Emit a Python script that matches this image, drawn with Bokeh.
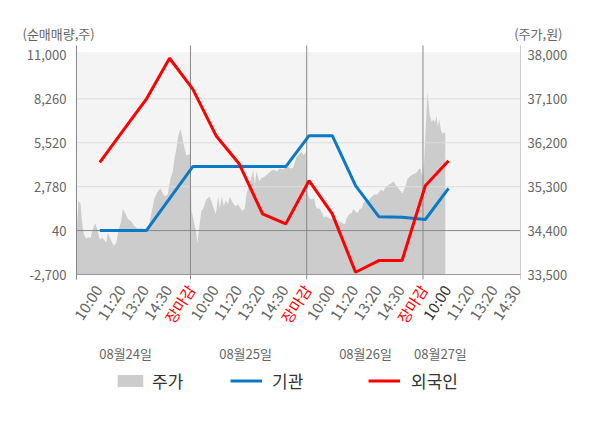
from bokeh.plotting import figure
from bokeh.models import Range1d, Legend, LegendItem, ColumnDataSource
from bokeh.core.properties import value
from bokeh.embed import file_html
from bokeh.resources import INLINE

FONT = "Noto Sans CJK KR"

# ---------------- data ----------------
slot_labels = ["10:00", "11:20", "13:20", "14:30", "장마감",
               "10:00", "11:20", "13:20", "14:30", "장마감",
               "10:00", "11:20", "13:20", "14:30", "장마감",
               "10:00", "11:20", "13:20", "14:30"]
slot_pos = list(range(19))
day_labels = ["08월24일", "08월25일", "08월26일", "08월27일"]
day_label_pos = [1.11, 6.27, 11.43, 14.65]
day_bounds = [3.9, 8.9, 13.9]

flow_pos = list(range(16))
inst = [40, 40, 40, 2030, 4030, 4030, 4030, 4030, 4030, 5960, 5960, 2840, 910, 870, 730, 2670]
foreign = [4300, 6270, 8240, 10790, 8860, 5960, 4190, 1080, 460, 3150, 1080, -2560, -1830, -1830, 2840, 4400]

left_ticks = [-2700, 40, 2780, 5520, 8260, 11000]
left_tick_labels = ["-2,700", "40", "2,780", "5,520", "8,260", "11,000"]
right_ticks = [33500, 34400, 35300, 36200, 37100, 38000]
right_tick_labels = ["33,500", "34,400", "35,300", "36,200", "37,100", "38,000"]

price_pos_d1 = [-1.00, -0.92, -0.83, -0.77, -0.69, -0.58, -0.52, -0.40, -0.30, -0.20, -0.11, -0.01,
                0.13, 0.28, 0.34, 0.46, 0.60, 0.71, 0.80, 0.92, 0.99, 1.09, 1.20, 1.35, 1.49, 1.63,
                1.78, 1.92, 2.06, 2.24, 2.35, 2.49, 2.61, 2.71, 2.81, 2.92, 3.04, 3.14, 3.21, 3.29,
                3.38, 3.47, 3.53, 3.61, 3.72, 3.78, 3.89]
price_d1 = [34330, 35000, 34960, 34590, 34330, 34230, 34270, 34250, 34430, 34550, 34430, 34230,
            34250, 34150, 34350, 34230, 34090, 34150, 34390, 34590, 34840, 34760, 34640, 34590,
            34490, 34450, 34450, 34430, 34390, 34800, 35060, 35200, 35260, 35160, 35100, 35140,
            35470, 35610, 35870, 36070, 36360, 36480, 36360, 36160, 35950, 35950, 35970]
price_pos_d2 = [3.94, 4.02, 4.09, 4.16, 4.19, 4.25, 4.30, 4.37, 4.45, 4.52, 4.59, 4.71, 4.80, 4.90,
                4.99, 5.09, 5.16, 5.25, 5.33, 5.42, 5.51, 5.59, 5.68, 5.76, 5.85, 5.95, 6.05, 6.14,
                6.24, 6.31, 6.43, 6.52, 6.60, 6.67, 6.74, 6.86, 6.95, 7.10, 7.24, 7.39, 7.48, 7.60,
                7.74, 7.89, 8.00, 8.10, 8.20, 8.32, 8.39, 8.46, 8.58, 8.68, 8.77, 8.86]
price_d2 = [34800, 34660, 34490, 34330, 34130, 34350, 34550, 34800, 34860, 34960, 35040, 35100,
            35000, 34860, 34740, 35100, 34860, 35100, 34900, 35020, 34940, 35100, 35000, 34940,
            34900, 34940, 34860, 34800, 34860, 35160, 35340, 35470, 35650, 35340, 35610, 35410,
            35470, 35510, 35570, 35630, 35650, 35610, 35670, 35650, 35710, 35710, 35670, 35690,
            35810, 35910, 35970, 36010, 35950, 36010]
price_pos_d3 = [8.92, 9.01, 9.12, 9.22, 9.29, 9.36, 9.44, 9.51, 9.58, 9.65, 9.72, 9.84, 9.94, 10.04,
                10.15, 10.27, 10.32, 10.44, 10.55, 10.62, 10.73, 10.84, 10.90, 10.98, 11.08, 11.18,
                11.27, 11.33, 11.42, 11.51, 11.59, 11.70, 11.80, 11.94, 12.09, 12.19, 12.30, 12.42,
                12.52, 12.62, 12.73, 12.85, 12.95, 13.02, 13.14, 13.23, 13.33, 13.45, 13.57, 13.66,
                13.74, 13.81, 13.88]
price_d3 = [35200, 35060, 35040, 35060, 34900, 34840, 34860, 34800, 34740, 34660, 34700, 34660,
            34640, 34660, 34590, 34550, 34590, 34550, 34530, 34660, 34740, 34760, 34840, 34800,
            34760, 34840, 34860, 34960, 35000, 35000, 35040, 35100, 35140, 35140, 35240, 35200,
            35300, 35340, 35360, 35410, 35340, 35260, 35200, 35160, 35300, 35450, 35510, 35550,
            35570, 35610, 35670, 35650, 35470]
price_pos_d4 = [13.95, 13.99, 14.05, 14.09, 14.14, 14.19, 14.28, 14.34, 14.42, 14.48, 14.54, 14.60,
                14.67, 14.74, 14.81, 14.86]
price_d4 = [35810, 36220, 36820, 37230, 37030, 36760, 36620, 36680, 36620, 36760, 36520, 36680,
            36460, 36380, 36420, 36380]

price_pos = price_pos_d1 + price_pos_d2 + price_pos_d3 + price_pos_d4
price = price_d1 + price_d2 + price_d3 + price_d4

# ---------------- layout (page pixel <-> data) ----------------
W, H = 584, 412
SLOT0_PX, SLOT_PX = 99.3, 23.25          # page x of slot 0, px per slot
BASE_PX = 274                            # page y of the bottom of the plot band
L_PER_PX = 13700 / 219.6                 # left-axis units per px
P_PER_PX = 4500 / 219.6                  # price units per px


def kx(px):
    return (px - SLOT0_PX) / SLOT_PX


def ly(py):
    return left_ticks[0] + (BASE_PX - py) * L_PER_PX


def py_price(py):
    return right_ticks[0] + (BASE_PX - py) * P_PER_PX


X_LEFT, X_RIGHT = kx(76), kx(520)
TOP_FRAME = ly(45)
BAND_TOP = ly(51.7)

GRAY_TXT = "#666666"
BLUE = "#0a7ac6"
RED = "#ff0000"

p = figure(width=W, height=H, output_backend="svg", toolbar_location=None,
           x_range=Range1d(kx(0), kx(W)), y_range=Range1d(ly(H), ly(0)),
           x_axis_type=None, y_axis_type=None,
           min_border_left=0, min_border_right=0, min_border_top=0, min_border_bottom=0,
           background_fill_color="white", border_fill_color="white", outline_line_color=None)
p.extra_y_ranges = {"price": Range1d(py_price(H), py_price(0))}

# plot band background
p.quad(left=[X_LEFT], right=[X_RIGHT], bottom=[left_ticks[0]], top=[BAND_TOP],
       fill_color="#f4f4f4", line_color=None)

# price area
area = p.varea(x=price_pos, y1=[right_ticks[0]] * len(price), y2=price,
               fill_color="#cccccc", fill_alpha=1.0, y_range_name="price")

# grid lines
grid_vals = left_ticks[2:5]
p.segment(x0=[X_LEFT] * 3, x1=[X_RIGHT] * 3, y0=grid_vals, y1=grid_vals,
          line_color="#dddddd", line_width=1)
p.segment(x0=[X_LEFT], x1=[X_RIGHT], y0=[left_ticks[1]], y1=[left_ticks[1]],
          line_color="#888888", line_width=1)
# day separators (with tick below the axis)
p.segment(x0=day_bounds, x1=day_bounds, y0=[ly(279)] * 3, y1=[TOP_FRAME] * 3,
          line_color="#888888", line_width=1)
# axis lines
p.segment(x0=[X_LEFT], x1=[X_LEFT], y0=[ly(279)], y1=[TOP_FRAME], line_color="#888888", line_width=1)
p.segment(x0=[X_RIGHT], x1=[X_RIGHT], y0=[ly(279)], y1=[TOP_FRAME], line_color="#cccccc", line_width=1)
p.segment(x0=[X_LEFT], x1=[X_RIGHT], y0=[left_ticks[0]], y1=[left_ticks[0]],
          line_color="#999999", line_width=1)

# flow lines
l_inst = p.line(flow_pos, inst, line_color=BLUE, line_width=3)
l_for = p.line(flow_pos, foreign, line_color=RED, line_width=3)

# axis tick labels
p.text(x=[kx(66)] * len(left_ticks), y=left_ticks, text=left_tick_labels,
       text_font=value(FONT), text_font_size="13px", text_color=GRAY_TXT,
       text_align="right", text_baseline="middle")
p.text(x=[kx(527)] * len(right_ticks), y=right_ticks, text=right_tick_labels,
       text_font=value(FONT), text_font_size="13px", text_color=GRAY_TXT,
       text_align="left", text_baseline="middle", y_range_name="price")

# axis titles
p.text(x=[kx(22)], y=[ly(33)], text=["(순매매량,주)"], text_font=value(FONT),
       text_font_size="13px", text_color=GRAY_TXT, text_align="left", text_baseline="middle")
p.text(x=[kx(562)], y=[ly(33)], text=["(주가,원)"], text_font=value(FONT),
       text_font_size="13px", text_color=GRAY_TXT, text_align="right", text_baseline="middle")

# slot labels (rotated)
slot_colors = [RED if t == "장마감" else ("#333333" if k == 15 else GRAY_TXT)
               for k, t in zip(slot_pos, slot_labels)]
shift = 2.0 / SLOT_PX
slot_src = ColumnDataSource(dict(x=[k - shift for k in slot_pos], y=[ly(286)] * len(slot_pos),
                                 text=slot_labels, color=slot_colors))
p.text(x="x", y="y", text="text", source=slot_src, angle=57, angle_units="deg",
       text_font=value(FONT), text_font_size="15px", text_color="color",
       text_align="right", text_baseline="middle")

# day labels
p.text(x=day_label_pos, y=[ly(353)] * len(day_label_pos), text=day_labels,
       text_font=value(FONT), text_font_size="13px", text_color=GRAY_TXT,
       text_align="center", text_baseline="middle")

# legends
for rend, lab, xpos, stand in [(area, "주가", 114, 6), (l_inst, "기관", 230, 10), (l_for, "외국인", 368, 11)]:
    lg = Legend(items=[LegendItem(label=lab, renderers=[rend])], location=(xpos, H - 393),
                orientation="horizontal", padding=0, margin=0, spacing=0,
                glyph_width=32, glyph_height=15, label_height=15, label_standoff=stand,
                label_text_font=FONT, label_text_font_size="17px", label_text_color="#333333",
                border_line_alpha=0, background_fill_alpha=0)
    p.add_layout(lg)

open("out.html", "w").write(file_html(p, INLINE))
